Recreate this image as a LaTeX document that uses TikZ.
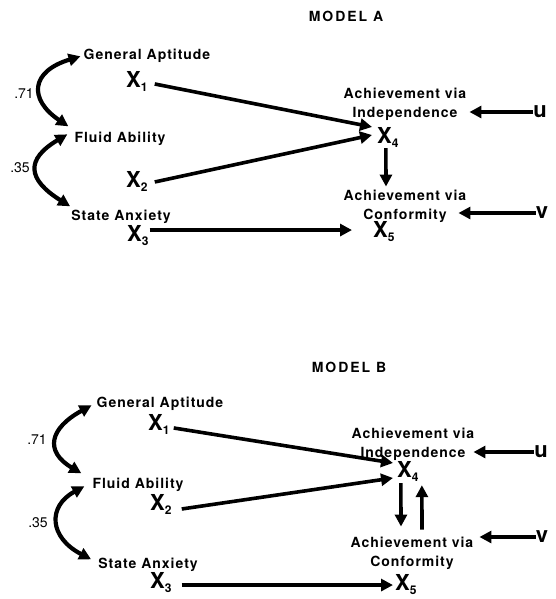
\documentclass[tikz,border=0pt]{standalone}
\usepackage{fontspec}
\usetikzlibrary{arrows.meta}
\newfontfamily\labfont[LetterSpace=7]{TeX Gyre Heros}
\newfontfamily\headfont[LetterSpace=14]{TeX Gyre Heros}
\newfontfamily\plainfont{TeX Gyre Heros}
\newcommand\varx[1]{X\raisebox{-4pt}{\fontsize{12}{12}\selectfont #1}}

\tikzset{
  lab/.style={font=\labfont\bfseries\fontsize{14}{19}\selectfont, align=center, inner sep=3pt},
  head/.style={font=\headfont\bfseries\fontsize{14}{17}\selectfont, anchor=base},
  var/.style={font=\plainfont\bfseries\fontsize{22}{24}\selectfont, inner sep=0pt, anchor=base west},
  err/.style={font=\plainfont\bfseries\fontsize{22}{24}\selectfont, inner sep=0pt},
  coef/.style={font=\plainfont\fontsize{14}{16}\selectfont, inner sep=0pt},
  tipshape/.tip={Triangle[length=12pt,width=12pt]},
  path/.style={line width=3.6pt, -tipshape},
  corr/.style={line width=4.2pt, tipshape-tipshape},
}

\begin{document}
\begin{tikzpicture}[x=1pt, y=-1pt]
\useasboundingbox (0,0) rectangle (555,599);

% ---------------- Model A ----------------
\node[head] (titleA) at (346,22) {MODEL A};
\node[lab, anchor=base] (gA) at (147,60) {General Aptitude};
\node[lab, anchor=base] (fA) at (120,142) {Fluid Ability};
\node[lab, anchor=base] (sA) at (121,220) {State Anxiety};
\node[var] (x1A) at (126,88) {\varx{1}};
\node[var] (x2A) at (126,187) {\varx{2}};
\node[var] (x3A) at (127,241) {\varx{3}};
\node[lab] (indA) at (405,104) {Achievement via\\Independence};
\node[var] (x4A) at (377,143) {\varx{4}};
\node[lab] (confA) at (405,206) {Achievement via\\Conformity};
\node[var] (x5A) at (373,237) {\varx{5}};
\node[err] (uA) at (540,112) {u};
\node[err] (vA) at (542,213) {v};
\node[coef] (r1A) at (24,94) {.71};
\node[coef] (r2A) at (20,168) {.35};

\draw[corr] (gA.west) .. controls +(-50,15) and +(-40,-27) .. ([shift={(-3,-12)}]fA.west);
\draw[corr] ([shift={(-4,-4)}]fA.west) .. controls +(-42,25) and +(-43,-27) .. ([shift={(2,-10)}]sA.west);

\draw[path] ([shift={(7,2)}]x1A.east) -- ([shift={(-5,-10)}]x4A.west);
\draw[path] ([shift={(7,1)}]x2A.east) -- ([shift={(-5,-2)}]x4A.west);
\draw[path] ([shift={(1,-5)}]x3A.east) -- ([shift={(-21,-1)}]x5A.west);
\draw[path] ([shift={(-2,1)}]x4A.south) -- ([shift={(-19,0)}]confA.north);
\draw[path] (uA.west) -- (uA.west -| indA.east);
\draw[path] (vA.west) -- ([shift={(-11,0)}]vA.west -| confA.east);

% ---------------- Model B ----------------
\node[head] (titleB) at (349,372) {MODEL B};
\node[lab, anchor=base] (gB) at (160,407) {General Aptitude};
\node[lab, anchor=base] (fB) at (138,488) {Fluid Ability};
\node[lab, anchor=base] (sB) at (148,568) {State Anxiety};
\node[var] (x1B) at (148,430) {\varx{1}};
\node[var] (x2B) at (150,510) {\varx{2}};
\node[var] (x3B) at (150,588) {\varx{3}};
\node[lab] (indB) at (413,444) {Achievement via\\Independence};
\node[var] (x4B) at (397,477) {\varx{4}};
\node[lab] (confB) at (412,553) {Achievement via\\Conformity};
\node[var] (x5B) at (395,590) {\varx{5}};
\node[err] (uB) at (541,452) {u};
\node[err] (vB) at (542,537) {v};
\node[coef] (r1B) at (37,440) {.71};
\node[coef] (r2B) at (38,523) {.35};

\draw[corr] ([shift={(-2,2)}]gB.west) .. controls +(-42,23) and +(-37,-22) .. ([shift={(-8,-11)}]fB.west);
\draw[corr] ([shift={(-5,2)}]fB.west) .. controls +(-37,20) and +(-42,-22) .. ([shift={(-4,-5)}]sB.west);

\draw[path] ([shift={(4,4)}]x1B.east) -- ([shift={(-4,-8)}]x4B.west);
\draw[path] ([shift={(10,5)}]x2B.east) -- ([shift={(-4,7)}]x4B.west);
\draw[path] ([shift={(10,3)}]x3B.east) -- ([shift={(-2,1)}]x5B.west);
\draw[path] ([shift={(-7,2)}]x4B.south) -- ([shift={(-11,-7)}]confB.north);
\draw[path] ([shift={(10,-4)}]confB.north) -- ([shift={(14,4)}]x4B.south);
\draw[path] (uB.west) -- ([shift={(-4,0)}]uB.west -| indB.east);
\draw[path] (vB.west) -- ([shift={(3,0)}]vB.west -| confB.east);
\end{tikzpicture}
\end{document}
